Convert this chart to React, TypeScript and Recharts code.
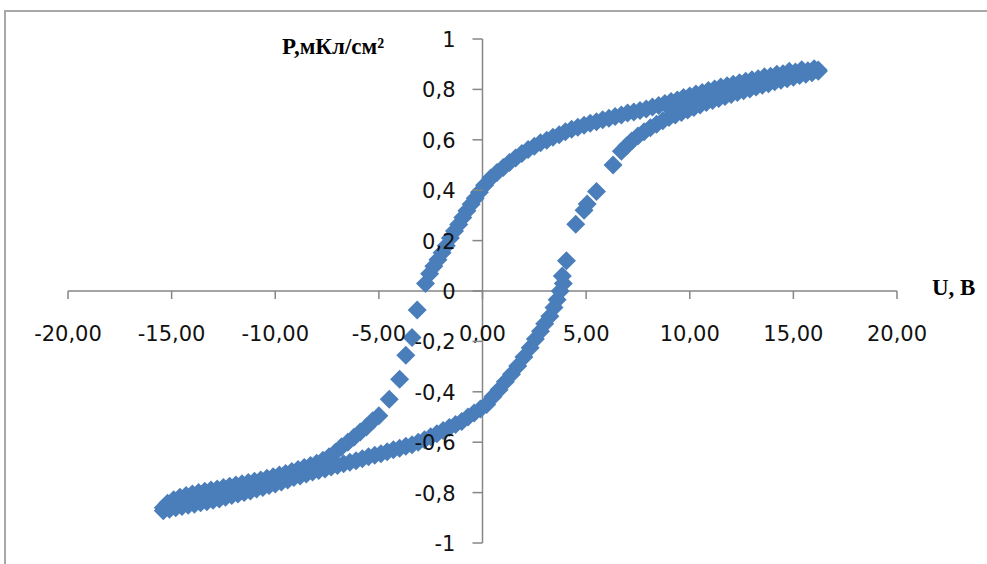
import React from 'react';
import { ScatterChart, Scatter, XAxis, YAxis, ReferenceLine } from 'recharts';

// Descending branch (from +U tip to -U tip)
const descU = [
  16.2, 16.0, 15.7, 15.4, 15.1, 14.8, 14.5, 14.2, 13.9, 13.6, 13.3, 13.0, 12.7, 12.4, 12.1, 11.8,
  11.5, 11.2, 10.9, 10.6, 10.3, 10.0, 9.7, 9.4, 9.1, 8.8, 8.5, 8.2, 7.9, 7.6, 7.3, 7.0,
  6.7, 6.4, 6.1, 5.8, 5.5, 5.2, 4.9, 4.6, 4.3, 4.0, 3.7, 3.4, 3.1, 2.8, 2.5, 2.2,
  1.9, 1.6, 1.3, 1.0, 0.7, 0.4, 0.1, -0.15, -0.35, -0.55, -0.75, -0.95, -1.15, -1.35,
  -1.55, -1.75, -1.95, -2.15, -2.35, -2.55, -2.75, -3.15, -3.4, -3.7, -4.0, -4.5, -5.0, -5.3,
  -5.6, -5.9, -6.2, -6.5, -6.8, -7.1, -7.4, -7.7, -8.0, -8.3, -8.6, -8.9, -9.2, -9.5, -9.8, -10.1,
  -10.4, -10.7, -11.0, -11.3, -11.6, -11.9, -12.2, -12.5, -12.8, -13.1, -13.4, -13.7, -14.0, -14.3,
  -14.6, -14.9, -15.2, -15.4,
];
const descP = [
  0.877, 0.882, 0.874, 0.878, 0.869, 0.872, 0.862, 0.860, 0.852, 0.850, 0.842, 0.838, 0.832, 0.826, 0.820, 0.814,
  0.810, 0.802, 0.796, 0.788, 0.782, 0.774, 0.768, 0.758, 0.752, 0.744, 0.736, 0.730, 0.722, 0.716, 0.710, 0.706,
  0.698, 0.692, 0.686, 0.680, 0.672, 0.666, 0.658, 0.650, 0.642, 0.632, 0.620, 0.610, 0.598, 0.588, 0.574, 0.562,
  0.546, 0.528, 0.510, 0.490, 0.470, 0.448, 0.420, 0.392, 0.368, 0.344, 0.318, 0.292, 0.264, 0.238,
  0.210, 0.180, 0.152, 0.124, 0.098, 0.068, 0.030, -0.075, -0.185, -0.255, -0.350, -0.430, -0.495, -0.515,
  -0.540, -0.560, -0.580, -0.600, -0.618, -0.640, -0.658, -0.672, -0.684, -0.692, -0.700, -0.708, -0.716, -0.724, -0.730, -0.737,
  -0.743, -0.750, -0.755, -0.760, -0.765, -0.770, -0.775, -0.780, -0.786, -0.790, -0.795, -0.800, -0.806, -0.812,
  -0.818, -0.828, -0.842, -0.860,
];

// Ascending branch (from -U tip to +U tip)
const ascU = [
  -15.4, -15.1, -14.8, -14.5, -14.2, -13.9, -13.6, -13.3, -13.0, -12.7, -12.4, -12.1, -11.8, -11.5, -11.2, -10.9,
  -10.6, -10.3, -10.0, -9.7, -9.4, -9.1, -8.8, -8.5, -8.2, -7.9, -7.6, -7.3, -7.0, -6.7, -6.4, -6.1,
  -5.8, -5.5, -5.2, -4.9, -4.6, -4.3, -4.0, -3.7, -3.4, -3.1, -2.8, -2.5, -2.2, -1.9, -1.6, -1.3,
  -1.0, -0.7, -0.4, -0.1, 0.2, 0.5, 0.8, 1.1, 1.4, 1.7, 2.0, 2.3, 2.55, 2.8, 3.0, 3.25,
  3.45, 3.6, 3.75, 3.9, 3.85, 4.05, 4.5, 4.9, 5.05, 5.5, 6.3, 6.7, 6.95, 7.2, 7.5, 7.8,
  8.1, 8.4, 8.7, 9.0, 9.3, 9.6, 9.9, 10.2, 10.5, 10.8, 11.1, 11.4, 11.7, 12.0, 12.3, 12.6,
  12.9, 13.2, 13.5, 13.8, 14.1, 14.4, 14.7, 15.0, 15.3, 15.6, 15.9, 16.2,
];
const ascP = [
  -0.872, -0.866, -0.860, -0.855, -0.850, -0.846, -0.840, -0.836, -0.830, -0.825, -0.818, -0.812, -0.806, -0.800, -0.794, -0.786,
  -0.780, -0.772, -0.766, -0.758, -0.750, -0.740, -0.734, -0.726, -0.718, -0.712, -0.706, -0.698, -0.692, -0.686, -0.680, -0.674,
  -0.666, -0.658, -0.652, -0.646, -0.638, -0.630, -0.624, -0.616, -0.610, -0.600, -0.590, -0.578, -0.566, -0.554, -0.542, -0.530,
  -0.518, -0.500, -0.484, -0.468, -0.450, -0.420, -0.392, -0.360, -0.330, -0.298, -0.262, -0.225, -0.190, -0.160, -0.130, -0.100,
  -0.065, -0.035, 0.000, 0.030, 0.060, 0.120, 0.265, 0.320, 0.345, 0.395, 0.500, 0.555, 0.575, 0.595, 0.615, 0.632,
  0.648, 0.662, 0.676, 0.688, 0.698, 0.708, 0.718, 0.728, 0.738, 0.748, 0.756, 0.764, 0.772, 0.780, 0.788, 0.795,
  0.802, 0.810, 0.816, 0.822, 0.830, 0.836, 0.842, 0.848, 0.855, 0.860, 0.866, 0.872,
];

const xTicks = [-20, -15, -10, -5, 0, 5, 10, 15, 20];
const yTicks = [-1, -0.8, -0.6, -0.4, -0.2, 0, 0.2, 0.4, 0.6, 0.8, 1];
const xTitle = 'U, В';
const yTitle = 'P,мКл/см²';

const data = [
  ...descU.map((u, i) => ({ u, p: descP[i] })),
  ...ascU.map((u, i) => ({ u, p: ascP[i] })),
];

const W = 987;
const H = 564;
const M = { top: 39, right: 90, bottom: 20, left: 67 };
const PLOT_LEFT = 68;
const PLOT_RIGHT = 897;
const PLOT_TOP = 39;
const PLOT_BOTTOM = 543;
const ZERO_X = (PLOT_LEFT + PLOT_RIGHT) / 2;
const ZERO_Y = (PLOT_TOP + PLOT_BOTTOM) / 2;
const AXIS = '#868686';
const BLUE = '#4A7EBB';
const TICK_FONT = '"DejaVu Sans", sans-serif';
const TICK_SIZE = 21;

const fmtX = (v: number) => v.toFixed(2).replace('.', ',');
const fmtY = (v: number) => {
  const r = Math.round(v * 10) / 10;
  return String(r).replace('.', ',');
};

const XTick = (props: any) => {
  const { x, payload } = props;
  return (
    <g>
      <line x1={x} x2={x} y1={ZERO_Y} y2={ZERO_Y + 8} stroke={AXIS} strokeWidth={1.5} />
      <text x={x} y={ZERO_Y + 50} textAnchor="middle" fontFamily={TICK_FONT} fontSize={TICK_SIZE} fill="#111">
        {fmtX(payload.value)}
      </text>
    </g>
  );
};

const YTick = (props: any) => {
  const { y, payload } = props;
  return (
    <g>
      <line x1={ZERO_X - 10} x2={ZERO_X} y1={y} y2={y} stroke={AXIS} strokeWidth={1.5} />
      <text x={ZERO_X - 27} y={y + 8} textAnchor="end" fontFamily={TICK_FONT} fontSize={TICK_SIZE} fill="#111">
        {fmtY(payload.value)}
      </text>
    </g>
  );
};

const Diamond = (props: any) => {
  const { cx, cy } = props;
  const r = 9.5;
  return <path d={`M${cx},${cy - r}L${cx + r},${cy}L${cx},${cy + r}L${cx - r},${cy}Z`} fill={BLUE} />;
};

export default function App() {
  return (
    <div style={{ position: 'absolute', left: 0, top: 0, width: W, height: H, background: '#fff', overflow: 'hidden' }}>
      <div
        style={{
          position: 'absolute',
          left: 4,
          top: 10,
          width: W,
          height: H,
          borderTop: '2px solid #a8a8a8',
          borderLeft: '2px solid #a8a8a8',
        }}
      />
      <div style={{ position: 'absolute', left: 0, top: 0 }}>
        <ScatterChart width={W} height={H} margin={M}>
          <XAxis
            type="number"
            dataKey="u"
            domain={[-20, 20]}
            ticks={xTicks}
            interval={0}
            height={1}
            axisLine={false}
            tickLine={false}
            tick={<XTick />}
            allowDataOverflow
          />
          <YAxis
            type="number"
            dataKey="p"
            domain={[-1, 1]}
            ticks={yTicks}
            interval={0}
            width={1}
            axisLine={false}
            tickLine={false}
            tick={<YTick />}
            allowDataOverflow
          />
          <ReferenceLine y={0} stroke={AXIS} strokeWidth={1.5} />
          <ReferenceLine x={0} stroke={AXIS} strokeWidth={1.5} />
          <Scatter data={data} shape={<Diamond />} isAnimationActive={false} />
        </ScatterChart>
      </div>
      <svg width={W} height={H} style={{ position: 'absolute', left: 0, top: 0, pointerEvents: 'none' }}>
        <text x={282} y={54} fontFamily='"Liberation Serif", serif' fontWeight="bold" fontSize={23} fill="#000">
          {yTitle}
        </text>
        <text x={932} y={295} fontFamily='"Liberation Serif", serif' fontWeight="bold" fontSize={23} fill="#000">
          {xTitle}
        </text>
      </svg>
    </div>
  );
}
